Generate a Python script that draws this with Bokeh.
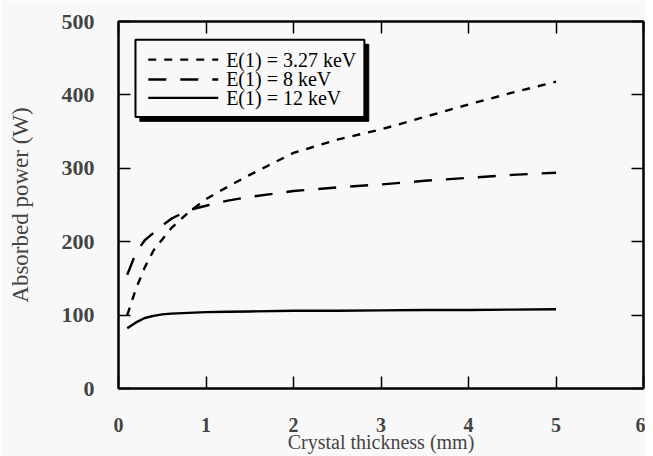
from bokeh.plotting import figure
from bokeh.models import LinearAxis, Range1d, ColumnDataSource
from bokeh.core.properties import value
from bokeh.embed import file_html
from bokeh.resources import INLINE

# Data
thickness = [0.1, 0.2, 0.3, 0.4, 0.5, 0.6, 0.8, 1.0, 1.25, 1.5, 2.0, 2.5, 3.0, 3.5, 4.0, 4.5, 5.0]
p_327kev = [100, 136, 165, 188, 203, 218, 240, 258, 275, 291, 321, 339, 353, 370, 387, 403, 418]
p_8kev = [155, 185, 202, 212, 222, 231, 243, 249, 256, 261, 269, 274, 278, 283, 287, 291, 294]
p_12kev = [82, 90, 96, 99, 101, 102, 103, 104, 104.5, 105, 106, 106, 106.5, 107, 107, 107.5, 108]

labels = ["E(1) = 3.27 keV", "E(1) = 8 keV", "E(1) = 12 keV"]
dashes = ["8 8", "18 14", "solid"]
x_ticks = [0, 1, 2, 3, 4, 5, 6]
y_ticks = [0, 100, 200, 300, 400, 500]

SERIF = "Liberation Serif"
BG = "#f8f8f8"

p = figure(width=645, height=456, output_backend="svg", toolbar_location=None,
           x_range=Range1d(0, 6), y_range=Range1d(0, 500),
           min_border_left=118, min_border_right=2, min_border_top=21, min_border_bottom=68,
           background_fill_color=BG, border_fill_color=BG)
p.grid.visible = False
p.outline_line_color = "black"
p.outline_line_width = 2

src = ColumnDataSource(dict(x=thickness, a=p_327kev, b=p_8kev, c=p_12kev))
for col, dash in zip(["a", "b", "c"], dashes):
    p.line("x", col, source=src, line_color="black", line_width=2.4, line_dash=dash)

def style_axis(ax, show_labels, ticks):
    ax.axis_line_color = "black"
    ax.axis_line_width = 2
    ax.major_tick_in = 12
    ax.major_tick_out = 0
    ax.minor_tick_in = 5
    ax.minor_tick_out = 0
    ax.major_tick_line_width = 1.5
    ax.minor_tick_line_width = 1.2
    if not show_labels:
        ax.major_label_overrides = {t: "" for t in ticks}
        ax.major_label_standoff = 0

xa = p.xaxis[0]
style_axis(xa, True, x_ticks)
xa.ticker = x_ticks
xa.ticker.num_minor_ticks = 5
xa.major_label_text_font = SERIF
xa.major_label_text_font_size = "20px"
xa.major_label_text_font_style = "bold"
xa.major_label_standoff = 29
xa.axis_label = "Crystal thickness (mm)"
xa.axis_label_text_font = SERIF
xa.axis_label_text_font_size = "20px"
xa.axis_label_text_font_style = "normal"
xa.axis_label_text_line_height = 0.8
xa.axis_label_standoff = -4

ya = p.yaxis[0]
style_axis(ya, True, y_ticks)
ya.ticker = y_ticks
ya.ticker.num_minor_ticks = 5
ya.major_label_text_font = SERIF
ya.major_label_text_font_size = "22px"
ya.major_label_text_font_style = "bold"
ya.major_label_standoff = 24
ya.axis_label = "Absorbed power (W)"
ya.axis_label_text_font = SERIF
ya.axis_label_text_font_size = "23px"
ya.axis_label_text_font_style = "normal"
ya.axis_label_standoff = 26

top = LinearAxis(ticker=x_ticks)
top.ticker.num_minor_ticks = 5
style_axis(top, False, x_ticks)
p.add_layout(top, "above")
right = LinearAxis(ticker=y_ticks)
right.ticker.num_minor_ticks = 5
style_axis(right, False, y_ticks)
p.add_layout(right, "right")

# Legend box with drop shadow (drawn in data space)
lx0, lx1, ly0, ly1 = 0.194, 2.81, 370, 475
p.quad(left=[lx0 + 0.05], right=[lx1 + 0.05], bottom=[ly0 - 6], top=[ly1 - 6],
       fill_color="black", line_color="black")
p.quad(left=[lx0], right=[lx1], bottom=[ly0], top=[ly1],
       fill_color=BG, line_color="black", line_width=2)
rows_y = [448, 421, 396]
for yy, dash in zip(rows_y, dashes):
    p.line([0.34, 1.14], [yy, yy], line_color="black", line_width=2.4, line_dash=dash)
p.text(x=[1.23] * 3, y=rows_y, text=labels, text_font=value(SERIF),
       text_font_size="20px", text_baseline="middle", text_color="black")

open("out.html", "w").write(file_html(p, INLINE))
